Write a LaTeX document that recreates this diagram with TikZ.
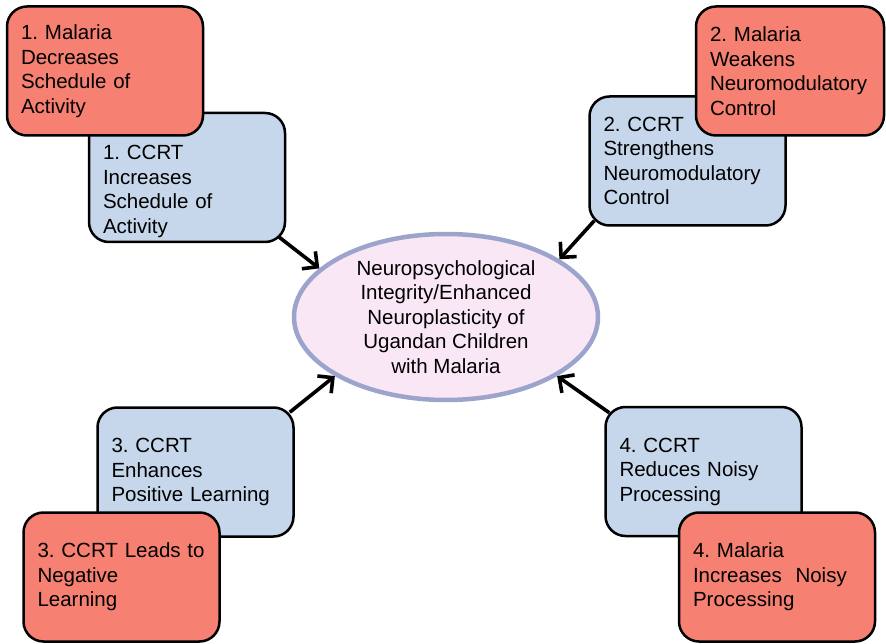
\documentclass[tikz,border=0pt]{standalone}
\usepackage{fontspec}
\setmainfont{Liberation Sans}
\usetikzlibrary{arrows.meta,calc,shapes.geometric}
\definecolor{ccrtblue}{RGB}{198,215,236}
\definecolor{malariared}{RGB}{246,128,114}
\definecolor{goalpink}{RGB}{249,231,246}
\definecolor{goalrim}{RGB}{156,164,204}
\frenchspacing
\begin{document}
\begin{tikzpicture}[
    x=1pt, y=1pt,
    every node/.style={font=\fontsize{20.5}{24.5}\selectfont},
    card/.style={rectangle, rounded corners=20pt, draw=black, line width=2.5pt, minimum width=196pt, minimum height=129pt, text width=168pt, inner xsep=14pt, inner ysep=2pt, align=left},
    ccrt/.style={card, fill=ccrtblue},
    malaria/.style={card, fill=malariared},
    goal/.style={ellipse, draw=goalrim, line width=4.5pt, fill=goalpink, minimum width=304pt, minimum height=166pt, inner sep=0pt, align=center},
    effect/.style={-{Straight Barb[length=11pt,width=22pt]}, line width=3.6pt}
]
\useasboundingbox (0,0) rectangle (886,-644);

\node[ccrt, text height=42pt] (ccrt1) at (187,-177.5) {1. CCRT\\Increases\\Schedule of\\Activity};
\node[ccrt] (ccrt2) at (687.5,-161) {2. CCRT\\Strengthens\\Neuromodulatory\\Control};
\node[ccrt] (ccrt3) at (195.5,-472) {3. CCRT\\Enhances\\Positive Learning};
\node[ccrt] (ccrt4) at (703.5,-471.5) {4. CCRT\\Reduces Noisy\\Processing};

\node[malaria] (mal1) at (105,-71) {1. Malaria\\Decreases\\Schedule of\\Activity};
\node[malaria, minimum width=188pt, text width=160pt] (mal2) at (790,-71) {2. Malaria\\Weakens\\Neuromodulatory\\Control};
\node[malaria] (mal3) at (121.5,-577) {3. CCRT Leads to\\Negative\\Learning};
\node[malaria] (mal4) at (777,-577) {4. Malaria\\Increases\ \ Noisy\\Processing};

\node[goal] (goal) at (446,-317) {Neuropsychological\\Integrity/Enhanced\\Neuroplasticity of\\Ugandan Children\\with Malaria};

\draw[effect] ($(ccrt1.south east)+(-7,6)$) -- (goal.159);
\draw[effect] ($(ccrt2.south west)+(6,6)$) -- (goal.27);
\draw[effect] ($(ccrt3.north east)+(-5,-6)$) -- (goal.208);
\draw[effect] ($(ccrt4.north west)+(5,-7)$) -- (goal.332);
\end{tikzpicture}
\end{document}
